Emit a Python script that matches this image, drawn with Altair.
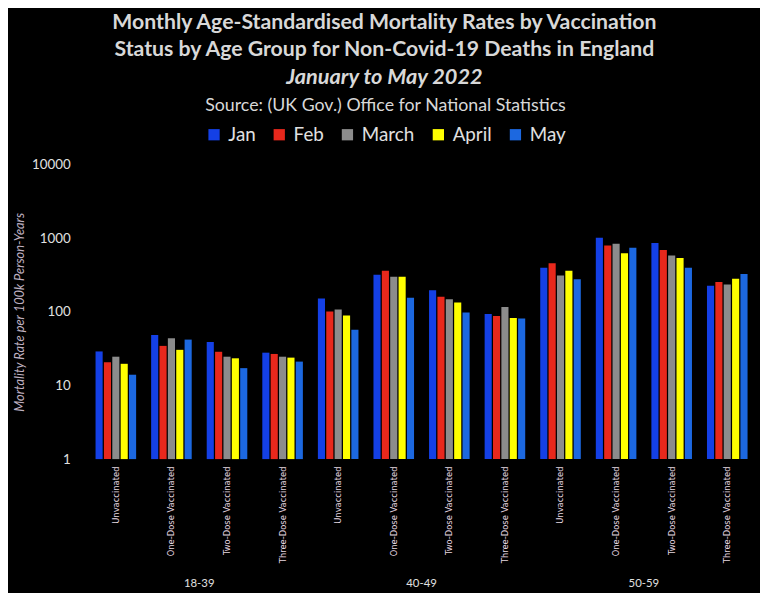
import altair as alt
import pandas as pd

months = ["Jan", "Feb", "March", "April", "May"]
statuses = ["Unvaccinated", "One-Dose Vaccinated", "Two-Dose Vaccinated", "Three-Dose Vaccinated"]
ages = ["18-39", "40-49", "50-59"]
colors = ["#1440e6", "#e8281c", "#8c8c8c", "#ffff00", "#1c68e0"]

# values per age group: [Unvaccinated, One-Dose, Two-Dose, Three-Dose] for each month
jan = [29, 48.5, 39, 27.9, 152, 320, 196, 93.5, 397, 1014, 859, 226]
feb = [20.7, 34.5, 28.7, 26.8, 101, 362, 161, 87.9, 459, 800, 692, 254]
mar = [24.6, 43.8, 24.6, 24.6, 108, 301, 148, 116, 311, 842, 582, 235]
apr = [19.7, 30.5, 23.4, 23.9, 89, 301, 134, 82.6, 362, 625, 541, 281]
may = [14.0, 42, 17.2, 21.1, 57, 156, 98, 81, 278, 745, 397, 327]

series = [jan, feb, mar, apr, may]
rows = []
for m, vals in zip(months, series):
    for i, v in enumerate(vals):
        rows.append({"age": ages[i // 4], "status": statuses[i % 4], "month": m, "value": v})
df = pd.DataFrame(rows)

txt = "#d8d8d8"

base = alt.Chart(df).mark_bar().encode(
    x=alt.X("status:N", sort=statuses,
            scale=alt.Scale(paddingInner=0.27, paddingOuter=0.135),
            axis=alt.Axis(title=None, labelAngle=-90, labelFont="DejaVu Sans", labelFontSize=8.5,
                          labelColor="#e6d8e0", ticks=False, domain=False, labelPadding=7, labelLimit=0)),
    xOffset=alt.XOffset("month:N", sort=months, scale=alt.Scale(paddingInner=0.15)),
    y=alt.Y("value:Q", stack=None, scale=alt.Scale(type="log", domain=[1, 10000]),
            axis=alt.Axis(title="Mortality Rate per 100k Person-Years", values=[1, 10, 100, 1000, 10000],
                          format="d", grid=False, domain=False, ticks=False,
                          labelFont="Lato", labelFontSize=13.5, labelColor="#e0e0e0", labelPadding=18,
                          titleFont="Lato", titleFontSize=13, titleFontStyle="italic", titleFontWeight="normal",
                          titleColor="#bfb0c0", titlePadding=5)),
    color=alt.Color("month:N", sort=months, scale=alt.Scale(domain=months, range=colors),
                    legend=alt.Legend(orient="none", legendX=118, legendY=-68, direction="horizontal",
                                      title="Source: (UK Gov.) Office for National Statistics",
                                      titleFont="Lato", titleFontSize=18, titleFontWeight="normal",
                                      titleColor=txt, titleAnchor="middle", titleOrient="top",
                                      titlePadding=10, titleLimit=0,
                                      labelFont="Lato", labelFontSize=19, labelColor="#e0e0e0",
                                      symbolType="square", symbolSize=130, symbolStrokeWidth=0,
                                      columnPadding=14, labelOffset=5)),
).properties(width=225, height=298)

chart = base.facet(
    column=alt.Column("age:N", sort=ages,
                      header=alt.Header(title=None, labelOrient="bottom", labelFont="Lato", labelFontSize=11.5,
                                        labelColor="#e0e0e0", labelPadding=15)),
    spacing=0,
).properties(
    title=alt.TitleParams(
        text=["Monthly Age-Standardised Mortality Rates by Vaccination",
              "Status by Age Group for Non-Covid-19 Deaths in England"],
        subtitle=["January to May 2022"],
        anchor="middle", frame="bounds", font="Lato", fontSize=21.5, fontWeight="bold",
        color=txt, lineHeight=28, subtitleFont="Lato", subtitleFontSize=22,
        subtitleFontStyle="italic", subtitleFontWeight="bold", subtitleColor=txt,
        subtitlePadding=6, offset=10),
    padding={"left": 5, "top": 0, "right": 5, "bottom": 0},
).configure(background="black").configure_view(stroke=None)

chart.save("out.html", embed_options={"renderer": "svg", "actions": False})
